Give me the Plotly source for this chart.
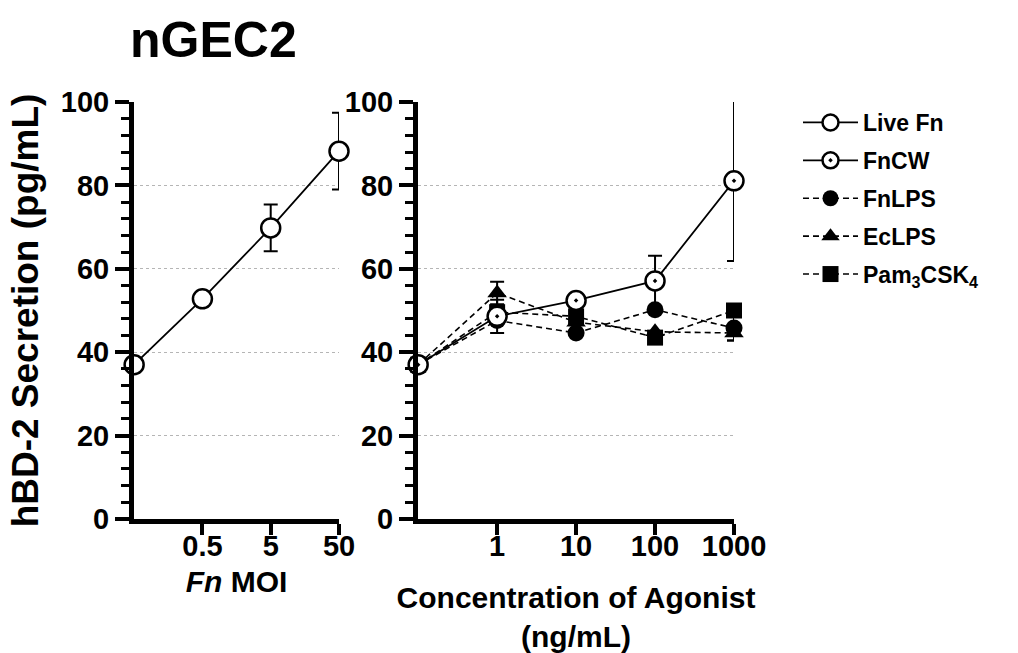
import math
import plotly.graph_objects as go

# ---- data ----
# control (untreated) is plotted at the axis origin of each log axis
moi = [0.05, 0.5, 5, 50]
live_fn = [37, 52.8, 69.8, 88.2]
live_fn_err = [None, None, 5.6, 9.2]

conc = [0.1, 1, 10, 100, 1000]
fncw = [37, 48.6, 52.4, 57.1, 81.1]
fncw_err = [None, 4.0, None, 6.0, 19.2]
fnlps = [37, 47.6, 44.6, 50.2, 45.8]
fnlps_err = [None, None, None, None, 3.0]
eclps = [37, 54.2, 47.2, 44.9, 44.6]
eclps_err = [None, 2.7, None, None, 1.8]
pam = [37, 49.6, 48.6, 43.5, 50.0]
pam_err = [None, None, None, None, None]

moi_ticks = [0.5, 5, 50]
conc_ticks = [1, 10, 100, 1000]
y_ticks = [0, 20, 40, 60, 80, 100]

FONT = "Liberation Sans, Arial, sans-serif"
BLACK = "#000000"


def err(vals):
    return dict(type="data", array=vals, visible=True, color=BLACK,
                thickness=2, width=7)


fig = go.Figure()

fig.add_trace(go.Scatter(
    x=moi, y=live_fn, xaxis="x", yaxis="y", name="Live Fn",
    mode="lines+markers", error_y=err(live_fn_err), cliponaxis=False,
    line=dict(color=BLACK, width=1.8),
    marker=dict(symbol="circle", size=19, color="white",
                line=dict(color=BLACK, width=2.5)),
    legendrank=1, legendgroup="a",
))

dashed = [
    ("FnLPS", fnlps, fnlps_err, "circle", 17, 3),
    ("EcLPS", eclps, eclps_err, "triangle-up", 17, 4),
    ("Pam<sub>3</sub>CSK<sub>4</sub>", pam, pam_err, "square", 16, 5),
]
for name, vals, e, sym, sz, rank in dashed:
    fig.add_trace(go.Scatter(
        x=conc, y=vals, xaxis="x2", yaxis="y2", name=name,
        mode="lines+markers", error_y=err(e), cliponaxis=False,
        line=dict(color=BLACK, width=1.6, dash="6px,4px"),
        marker=dict(symbol=sym, size=sz, color=BLACK,
                    line=dict(color=BLACK, width=0)),
        legendrank=rank, legendgroup=name,
    ))

fig.add_trace(go.Scatter(
    x=conc, y=fncw, xaxis="x2", yaxis="y2", name="FnCW",
    mode="lines+markers", error_y=err(fncw_err), cliponaxis=False,
    line=dict(color=BLACK, width=1.8),
    marker=dict(symbol="circle-dot", size=19, color="white",
                line=dict(color=BLACK, width=2.5)),
    legendrank=2, legendgroup="b",
))

tickfont = dict(family=FONT, size=29, color=BLACK, weight="bold")
titlefont = dict(family=FONT, size=30, color=BLACK, weight="bold")

yaxis_common = dict(
    range=[0, 100], tickvals=y_ticks, ticks="outside", ticklen=14,
    tickwidth=4, tickcolor=BLACK, showline=True, linewidth=5,
    linecolor=BLACK, showgrid=True, gridcolor="#b5b5b5", gridwidth=1,
    griddash="dot", zeroline=False, tickfont=tickfont, automargin=False,
    minor=dict(dtick=4, ticks="outside", ticklen=8, tickwidth=3,
               tickcolor=BLACK, showgrid=False),
)
xaxis_common = dict(
    type="log", ticks="outside", ticklen=11, tickwidth=4,
    tickcolor=BLACK, showline=True, linewidth=5, linecolor=BLACK,
    showgrid=False, zeroline=False, tickfont=tickfont, automargin=False,
    ticklabelstandoff=-14,
)

H = 653.0
W = 1018.0
ydom = [(H - 519) / H, (H - 102) / H]

fig.update_layout(
    width=1018, height=653,
    paper_bgcolor="white", plot_bgcolor="white",
    margin=dict(l=0, r=0, t=0, b=0),
    font=dict(family=FONT, color=BLACK),
    xaxis=dict(xaxis_common, domain=[134 / W, 339 / W], anchor="y",
               range=[math.log10(0.05) - 0.002, math.log10(50)],
               tickvals=moi_ticks, ticktext=[str(v) for v in moi_ticks],
               title=dict(text="<i>Fn</i> MOI", font=titlefont, standoff=12)),
    yaxis=dict(yaxis_common, domain=ydom, anchor="x",
               title=dict(text="hBD-2 Secretion (pg/mL)",
                          font=dict(family=FONT, size=37, color=BLACK,
                                    weight="bold"), standoff=12)),
    xaxis2=dict(xaxis_common, domain=[418 / W, 734 / W], anchor="y2",
                range=[-1.002, 3], tickvals=conc_ticks,
                ticktext=[str(v) for v in conc_ticks],
                title=dict(text="Concentration of Agonist<br>(ng/mL)",
                           font=titlefont, standoff=31)),
    yaxis2=dict(yaxis_common, domain=ydom, anchor="x2"),
    showlegend=True,
    legend=dict(x=798 / W, y=1 - 101 / H, xanchor="left", yanchor="top",
                font=dict(family=FONT, size=23, color=BLACK, weight="bold"),
                traceorder="grouped", tracegroupgap=5,
                bgcolor="rgba(0,0,0,0)", itemwidth=55),
    annotations=[dict(
        text="<b>nGEC2</b>", x=128 / W, y=1 - 40 / H, xref="paper",
        yref="paper", xanchor="left", yanchor="middle", showarrow=False,
        font=dict(family=FONT, size=50, color=BLACK),
    )],
)

# drop the page's default body margin so the figure sits at the top-left
fig.write_html("out.html", config={"displayModeBar": False},
               post_script="document.body.style.margin='0';")
